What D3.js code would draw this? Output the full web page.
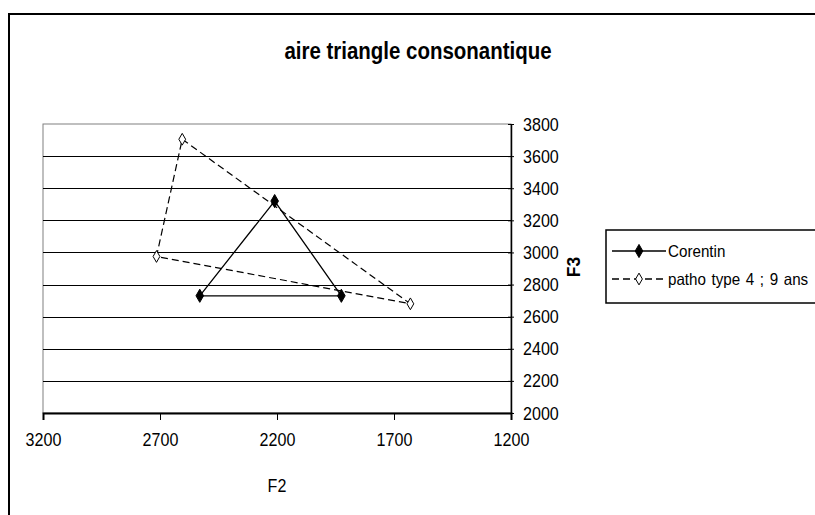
<!DOCTYPE html>
<html>
<head>
<meta charset="utf-8">
<script src="https://cdn.jsdelivr.net/npm/d3@7"></script>
<style>
html,body{margin:0;padding:0;background:#fff;overflow:hidden;}
text{font-family:"Liberation Sans",Arial,sans-serif;fill:#000;}
</style>
</head>
<body>
<svg id="chart" width="815" height="515"></svg>
<script>
const title = "aire triangle consonantique";
const xTitle = "F2";
const yTitle = "F3";
const seriesNames = ["Corentin", "patho type 4 ; 9 ans"];
const corentinF2 = [2530, 2210, 1925, 2530];
const corentinF3 = [2730, 3320, 2730, 2730];
const pathoF2 = [2605, 1630, 2715, 2605];
const pathoF3 = [3705, 2680, 2975, 3705];
const xTicks = [3200, 2700, 2200, 1700, 1200];
const yTicks = [2000, 2200, 2400, 2600, 2800, 3000, 3200, 3400, 3600, 3800];

const svg = d3.select("#chart");
const W = 815, H = 515;
const plot = {left: 43, right: 511, top: 124, bottom: 413};
const cond = 0.92; // horizontal condensing of the original font rendering

const x = d3.scaleLinear().domain([3200, 1200]).range([plot.left, plot.right]);
const y = d3.scaleLinear().domain([2000, 3800]).range([plot.bottom, plot.top]);

// chart area border
svg.append("rect").attr("x", 9).attr("y", 14).attr("width", W + 20).attr("height", H + 20)
  .attr("fill", "#fff").attr("stroke", "#000").attr("stroke-width", 2);

// title
svg.append("text").attr("transform", `translate(418,59) scale(0.89,1)`).attr("text-anchor", "middle")
  .style("font-size", "23px").style("font-weight", "bold").text(title);

// plot area border (gray)
svg.append("rect").attr("x", plot.left).attr("y", plot.top)
  .attr("width", plot.right - plot.left).attr("height", plot.bottom - plot.top)
  .attr("fill", "#fff").attr("stroke", "#808080").attr("stroke-width", 1);

// gridlines
svg.append("g").selectAll("line").data(yTicks.filter(d => d !== 2000 && d !== 3800)).join("line")
  .attr("x1", plot.left).attr("x2", plot.right)
  .attr("y1", d => Math.round(y(d)) + 0.5).attr("y2", d => Math.round(y(d)) + 0.5)
  .attr("stroke", "#000").attr("stroke-width", 1);

// x axis
const xAxis = d3.axisBottom(x).tickValues(xTicks).tickSize(7).tickFormat(d3.format("d"));
const gx = svg.append("g").attr("transform", `translate(0,${plot.bottom})`).call(xAxis);
gx.select(".domain").attr("stroke", "#000").attr("stroke-width", 2);
gx.selectAll(".tick line").attr("stroke", "#000");
gx.selectAll(".tick text").attr("y", null).attr("dy", null)
  .attr("transform", `translate(0,33) scale(${cond},1)`)
  .style("font-size", "17.5px").style("font-family", "Liberation Sans, Arial, sans-serif").attr("fill", "#000");

// y axis (right)
const yAxis = d3.axisRight(y).tickValues(yTicks).tickSizeInner(3).tickSizeOuter(0).tickFormat(d3.format("d"));
const gy = svg.append("g").attr("transform", `translate(${plot.right},0)`).call(yAxis);
gy.select(".domain").attr("stroke", "#000").attr("stroke-width", 1.5);
gy.selectAll(".tick line").attr("x1", -3).attr("stroke", "#000");
gy.selectAll(".tick text").attr("x", null).attr("dy", null)
  .attr("transform", `translate(12,6) scale(${cond},1)`)
  .style("font-size", "17.5px").style("font-family", "Liberation Sans, Arial, sans-serif").attr("fill", "#000");

// axis titles
svg.append("text").attr("transform", `translate(${(plot.left + plot.right) / 2},492) scale(${cond},1)`)
  .attr("text-anchor", "middle").style("font-size", "17.5px").text(xTitle);
svg.append("text").attr("transform", `translate(580,267) rotate(-90) scale(${cond},1)`)
  .attr("text-anchor", "middle").style("font-size", "19px").style("font-weight", "bold").text(yTitle);

// series
const corentin = corentinF2.map((d, i) => ({f2: d, f3: corentinF3[i]}));
const patho = pathoF2.map((d, i) => ({f2: d, f3: pathoF3[i]}));
const line = d3.line().x(d => x(d.f2)).y(d => y(d.f3));
const diamond = d3.symbol().type(d3.symbolDiamond);

svg.append("path").datum(patho).attr("d", line).attr("fill", "none")
  .attr("stroke", "#000").attr("stroke-width", 1.2).attr("stroke-dasharray", "7,4");
svg.append("path").datum(corentin).attr("d", line).attr("fill", "none")
  .attr("stroke", "#000").attr("stroke-width", 1.3);

svg.append("g").selectAll("path").data(corentin.slice(0, 3)).join("path")
  .attr("transform", d => `translate(${x(d.f2)},${y(d.f3)})`)
  .attr("d", diamond.size(50)()).attr("fill", "#000").attr("stroke", "#000").attr("stroke-width", 1);
svg.append("g").selectAll("path").data(patho.slice(0, 3)).join("path")
  .attr("transform", d => `translate(${x(d.f2)},${y(d.f3)})`)
  .attr("d", diamond.size(40)()).attr("fill", "#fff").attr("stroke", "#000").attr("stroke-width", 1);

// legend
const lg = svg.append("g");
lg.append("rect").attr("x", 606).attr("y", 230).attr("width", 240).attr("height", 73)
  .attr("fill", "#fff").attr("stroke", "#000").attr("stroke-width", 1.5);
const legendY = [251, 279];
const legendDash = [null, "7,4"];
const legendFill = ["#000", "#fff"];
seriesNames.forEach((name, i) => {
  lg.append("line").attr("x1", 612).attr("x2", 666).attr("y1", legendY[i]).attr("y2", legendY[i])
    .attr("stroke", "#000").attr("stroke-width", 1.3).attr("stroke-dasharray", legendDash[i]);
  lg.append("path").attr("transform", `translate(639,${legendY[i]})`)
    .attr("d", diamond.size(i === 0 ? 50 : 40)()).attr("fill", legendFill[i]).attr("stroke", "#000");
  lg.append("text").attr("transform", `translate(668,${legendY[i] + 6}) scale(${cond},1)`)
    .style("font-size", "16.5px").style("word-spacing", "1.5px").text(name);
});
</script>
</body>
</html>
